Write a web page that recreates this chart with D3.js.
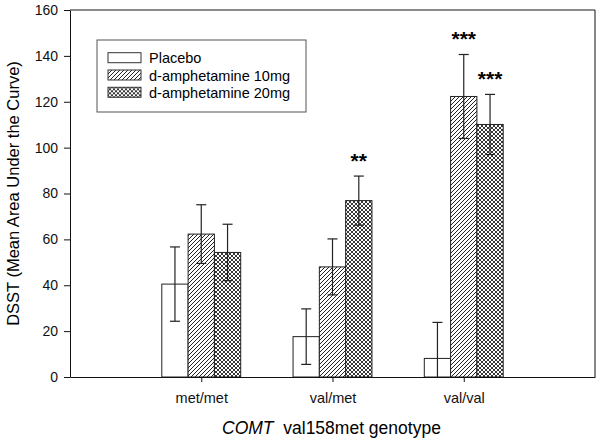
<!DOCTYPE html>
<html>
<head>
<meta charset="utf-8">
<script src="https://cdn.jsdelivr.net/npm/d3@7"></script>
<style>
  body { margin: 0; background: #fff; }
  text { font-family: "Liberation Sans", Arial, sans-serif; }
</style>
</head>
<body>
<div id="chart"></div>
<script>
(function () {
  // data
  const genotypes = ["met/met", "val/met", "val/val"];
  const series = ["Placebo", "d-amphetamine 10mg", "d-amphetamine 20mg"];
  const placeboMean = [40.5, 17.6, 8.1];
  const placeboErr = [16.2, 12.1, 15.7];
  const amp10Mean = [62.3, 48.0, 122.3];
  const amp10Err = [12.8, 12.2, 18.3];
  const amp20Mean = [54.3, 76.9, 110.1];
  const amp20Err = [12.3, 10.7, 13.1];
  const stars10 = ["", "", "***"];
  const stars20 = ["", "**", "***"];
  const yTicks = [0, 20, 40, 60, 80, 100, 120, 140, 160];

  const means = [placeboMean, amp10Mean, amp20Mean];
  const errs = [placeboErr, amp10Err, amp20Err];
  const stars = [[], stars10, stars20];

  const rows = [];
  genotypes.forEach((g, gi) => {
    series.forEach((s, si) => {
      rows.push({ g, s, si, mean: means[si][gi], err: errs[si][gi], star: stars[si][gi] || "" });
    });
  });

  const W = 600, H = 442;
  const margin = { top: 10, right: 5, bottom: 65, left: 70 };
  const width = W - margin.left - margin.right;
  const height = H - margin.top - margin.bottom;

  const svg = d3.select("#chart").append("svg")
    .attr("width", W).attr("height", H);

  const defs = svg.append("defs");
  // diagonal hatch
  const p1 = defs.append("pattern").attr("id", "hatch")
    .attr("patternUnits", "userSpaceOnUse").attr("width", 4).attr("height", 4);
  p1.append("rect").attr("width", 4).attr("height", 4).attr("fill", "#fff");
  p1.append("path").attr("d", "M-1,1 l2,-2 M0,4 l4,-4 M3,5 l2,-2")
    .attr("stroke", "#222").attr("stroke-width", 1);
  // cross hatch
  const p2 = defs.append("pattern").attr("id", "cross")
    .attr("patternUnits", "userSpaceOnUse").attr("width", 4).attr("height", 4);
  p2.append("rect").attr("width", 4).attr("height", 4).attr("fill", "#fff");
  p2.append("path").attr("d", "M-1,1 l2,-2 M0,4 l4,-4 M3,5 l2,-2 M-1,3 l2,2 M0,0 l4,4 M3,-1 l2,2")
    .attr("stroke", "#222").attr("stroke-width", 0.9);

  const fills = ["#fff", "url(#hatch)", "url(#cross)"];

  const g = svg.append("g").attr("transform", `translate(${margin.left},${margin.top})`);

  const x = d3.scalePoint().domain(genotypes).range([0, width]).padding(1);
  const barW = 26.3;
  const xs = d3.scaleBand().domain(series).range([-barW * 1.5, barW * 1.5]).padding(0);
  const y = d3.scaleLinear().domain([0, 160]).range([height, 0]);

  // frame top/right
  g.append("line").attr("x1", 0).attr("x2", width).attr("y1", 0).attr("y2", 0)
    .attr("stroke", "#666").attr("stroke-width", 1.5);
  g.append("line").attr("x1", width).attr("x2", width).attr("y1", 0).attr("y2", height)
    .attr("stroke", "#111").attr("stroke-width", 1);

  // bars
  g.selectAll("rect.bar").data(rows).enter().append("rect")
    .attr("class", "bar")
    .attr("x", d => x(d.g) + xs(d.s))
    .attr("width", xs.bandwidth())
    .attr("y", d => y(d.mean))
    .attr("height", d => y(0) - y(d.mean))
    .attr("fill", d => fills[d.si])
    .attr("stroke", "#222").attr("stroke-width", 1);

  // error bars
  const eb = g.selectAll("g.err").data(rows).enter().append("g")
    .attr("transform", d => `translate(${x(d.g) + xs(d.s) + xs.bandwidth() / 2},0)`)
    .attr("stroke", "#222").attr("stroke-width", 1.2);
  eb.append("line")
    .attr("y1", d => y(d.mean + d.err)).attr("y2", d => y(Math.max(0, d.mean - d.err)));
  eb.append("line").attr("x1", -5).attr("x2", 5)
    .attr("y1", d => y(d.mean + d.err)).attr("y2", d => y(d.mean + d.err));
  eb.filter(d => d.mean - d.err > 0).append("line").attr("x1", -5).attr("x2", 5)
    .attr("y1", d => y(d.mean - d.err)).attr("y2", d => y(d.mean - d.err));

  // significance stars
  g.selectAll("text.star").data(rows.filter(d => d.star)).enter().append("text")
    .attr("x", d => x(d.g) + xs(d.s) + xs.bandwidth() / 2)
    .attr("y", d => y(d.mean + d.err) - 8)
    .attr("text-anchor", "middle")
    .style("font-size", "21px").style("font-weight", "bold")
    .text(d => d.star);

  // axes
  const ya = g.append("g")
    .call(d3.axisLeft(y).tickValues(yTicks).tickSize(6).tickSizeOuter(0).tickPadding(6));
  ya.selectAll("text").style("font-size", "14px").attr("fill", "#111");
  ya.selectAll("line,path").attr("stroke", "#111");

  const xa = g.append("g").attr("transform", `translate(0,${height})`)
    .call(d3.axisBottom(x).tickSize(5).tickSizeOuter(0).tickPadding(11));
  xa.selectAll("text").style("font-size", "14.5px").attr("fill", "#111");
  xa.selectAll("line,path").attr("stroke", "#111");

  // axis titles
  svg.append("text")
    .attr("transform", `translate(19,${margin.top + height / 2}) rotate(-90)`)
    .attr("text-anchor", "middle").style("font-size", "16.5px")
    .text("DSST (Mean Area Under the Curve)");

  const xt = svg.append("text")
    .attr("x", 222).attr("y", 434)
    .attr("text-anchor", "start").style("font-size", "17.5px");
  xt.append("tspan").style("font-style", "italic").text("COMT");
  xt.append("tspan").text("\u00a0 val158met genotype");

  // legend
  const lg = svg.append("g").attr("transform", "translate(97,40)");
  lg.append("rect").attr("width", 209).attr("height", 72)
    .attr("fill", "#fff").attr("stroke", "#555").attr("stroke-width", 1);
  series.forEach((s, i) => {
    const row = lg.append("g").attr("transform", `translate(11,${12.7 + i * 17.3})`);
    row.append("rect").attr("width", 33).attr("height", 10)
      .attr("fill", fills[i]).attr("stroke", "#333").attr("stroke-width", 1);
    row.append("text").attr("x", 41).attr("y", 10.5)
      .style("font-size", "14.5px").text(s);
  });
})();
</script>
</body>
</html>
